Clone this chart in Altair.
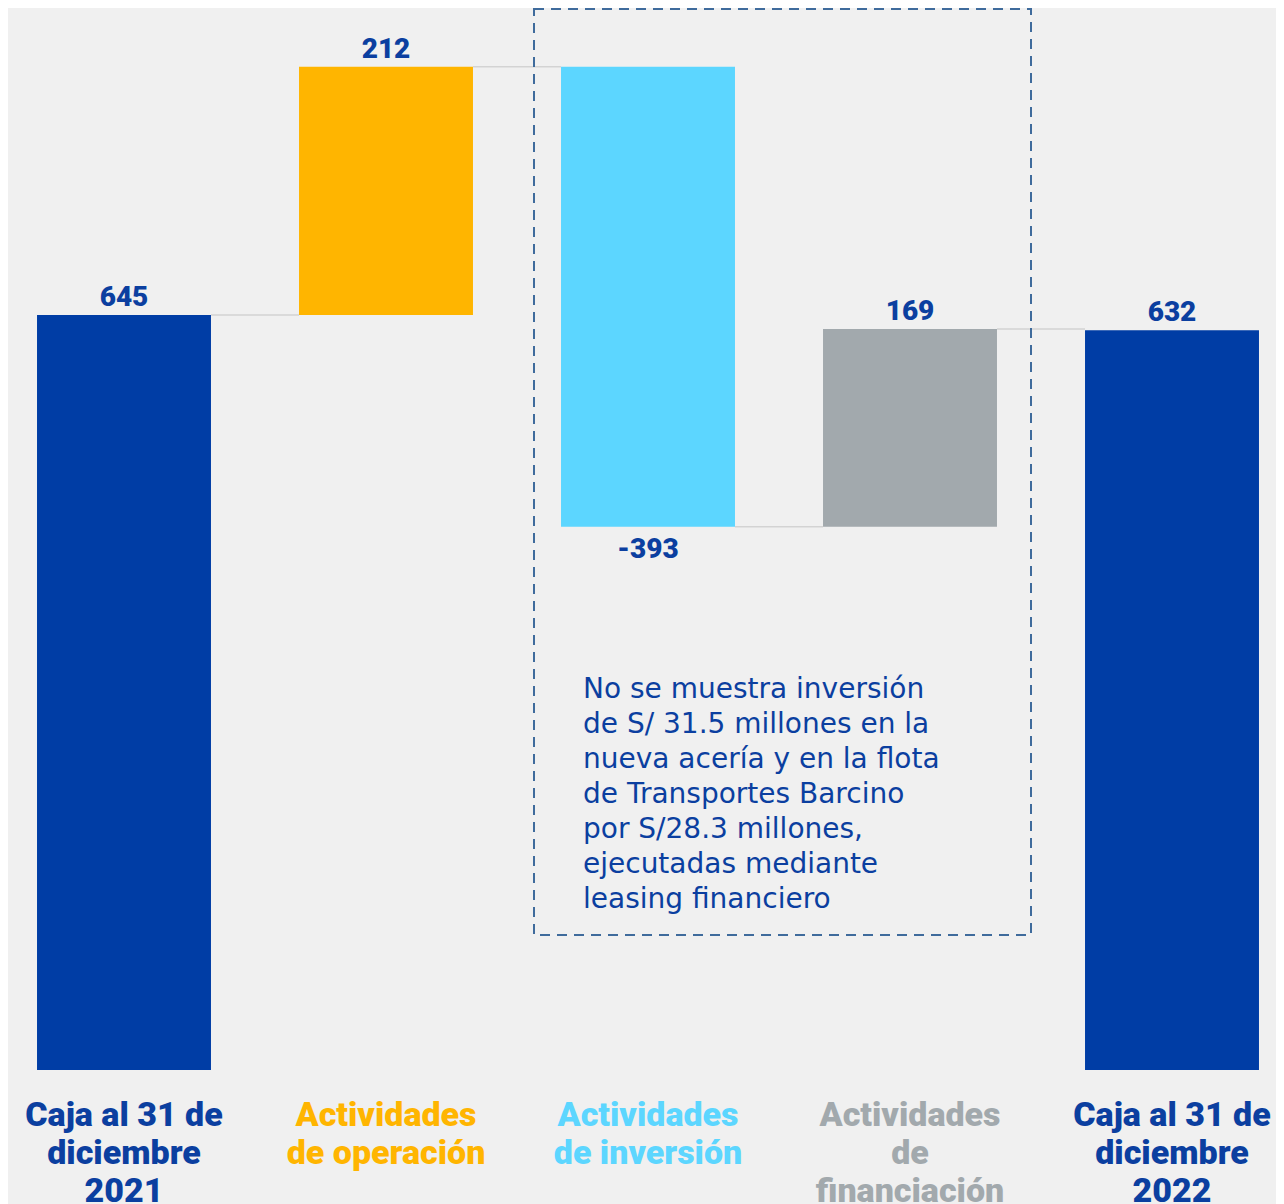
import altair as alt
import pandas as pd

# ---- data ----
categories = [
    "Caja al 31 de diciembre 2021",
    "Actividades de operación",
    "Actividades de inversión",
    "Actividades de financiación",
    "Caja al 31 de diciembre 2022",
]
cat_lines = [
    "Caja al 31 de\ndiciembre\n2021",
    "Actividades\nde operación",
    "Actividades\nde inversión",
    "Actividades\nde\nfinanciación",
    "Caja al 31 de\ndiciembre\n2022",
]
values = [645, 212, -393, 169, 632]
kinds = ["total", "delta", "delta", "delta", "total"]
bar_colors = ["#003DA5", "#FFB500", "#5CD6FF", "#A2A9AD", "#003DA5"]
text_colors = ["#0B3FA0", "#FFB500", "#5CD6FF", "#A2A9AD", "#0B3FA0"]
note_lines = [
    "No se muestra inversión",
    "de S/ 31.5 millones en la",
    "nueva acería y en la flota",
    "de Transportes Barcino",
    "por S/28.3 millones,",
    "ejecutadas mediante",
    "leasing financiero",
]

HALF = 0.332  # half bar width in category units (style)

rows = []
running = 0
for i, (c, v, k) in enumerate(zip(categories, values, kinds)):
    if k == "total":
        start, end = 0, v
    else:
        start, end = running, running + v
    running = end
    rows.append(dict(idx=i, cat=c, lines=cat_lines[i], value=v, start=start, end=end,
                     top=max(start, end), bottom=min(start, end),
                     xl=i - HALF, xr=i + HALF, color=bar_colors[i], tcolor=text_colors[i],
                     label=str(v)))
df = pd.DataFrame(rows)

conn = pd.DataFrame([dict(x1=df.xr[i], x2=df.xl[i + 1], level=df.end[i]) for i in range(len(df) - 1)])

W, H = 1268, 1196
PX_PER_UNIT = 755 / 645
BASE = 1062
ydom = [-(H - BASE) / PX_PER_UNIT, BASE / PX_PER_UNIT]
xdom = [-116 / 262, -116 / 262 + W / 262]

xs = alt.Scale(domain=xdom, nice=False, zero=False)
ys = alt.Scale(domain=ydom, nice=False, zero=False)

base = alt.Chart(df)

bars = base.mark_rect().encode(
    x=alt.X("xl:Q", scale=xs, axis=None),
    x2="xr:Q",
    y=alt.Y("start:Q", scale=ys, axis=None),
    y2="end:Q",
    color=alt.Color("color:N", scale=None),
)

connectors = alt.Chart(conn).mark_rule(color="#D3D3D3", strokeWidth=1.5).encode(
    x=alt.X("x1:Q", scale=xs, axis=None),
    x2="x2:Q",
    y=alt.Y("level:Q", scale=ys, axis=None),
)

lab_font = "Roboto"
pos_labels = base.transform_filter("datum.value >= 0").mark_text(
    font=lab_font, fontSize=28, fontWeight=900, color="#0B3FA0", baseline="bottom", dy=-3
).encode(
    x=alt.X("idx:Q", scale=xs, axis=None),
    y=alt.Y("top:Q", scale=ys, axis=None),
    text="label:N",
)
neg_labels = base.transform_filter("datum.value < 0").mark_text(
    font=lab_font, fontSize=28, fontWeight=900, color="#0B3FA0", baseline="top", dy=9
).encode(
    x=alt.X("idx:Q", scale=xs, axis=None),
    y=alt.Y("bottom:Q", scale=ys, axis=None),
    text="label:N",
)

cat_labels = base.mark_text(
    font=lab_font, fontSize=34, fontWeight=900, baseline="alphabetic",
    lineBreak="\n", lineHeight=38, align="center"
).encode(
    x=alt.X("idx:Q", scale=xs, axis=None),
    y=alt.value(1118),
    text="lines:N",
    color=alt.Color("tcolor:N", scale=None),
)

box = alt.Chart(pd.DataFrame({"k": [0]})).mark_rect(
    fill=None, fillOpacity=0, stroke="#3F6B9C", strokeWidth=2, strokeDash=[10, 7]
).encode(
    x=alt.value(526), x2=alt.value(1023), y=alt.value(1), y2=alt.value(927)
)

note = alt.Chart(pd.DataFrame({"t": ["\n".join(note_lines)]})).mark_text(
    font="DejaVu Sans", fontSize=28, color="#0B3FA0", align="left", baseline="alphabetic",
    lineBreak="\n", lineHeight=35
).encode(
    x=alt.value(575), y=alt.value(690), text="t:N"
)

chart = alt.layer(connectors, bars, pos_labels, neg_labels, cat_labels, box, note).properties(
    width=W, height=H, autosize=alt.AutoSizeParams(type="none"), padding=0,
    background="#F0F0F0"
).configure_view(stroke=None)

chart.save("out.html", embed_options={"renderer": "svg", "actions": False})
